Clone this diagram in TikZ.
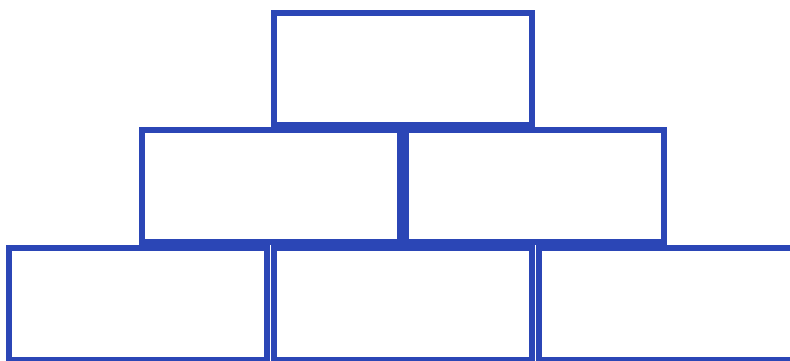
\documentclass[tikz,border=0pt]{standalone}
\definecolor{brickblue}{RGB}{43,70,182}
\begin{document}
\begin{tikzpicture}[x=1pt,y=1pt,
  brick/.style={draw=brickblue, line width=6pt, fill=white, minimum width=258pt, minimum height=112pt, inner sep=0pt, outer sep=0pt}]
\useasboundingbox (0,0) rectangle (790,360);
\clip (0,0) rectangle (790,360);
\node[brick] (t)  at (403,291.5) {};
\node[brick] (ml) at (270.5,174) {};
\node[brick] (mr) at (535,174) {};
\node[brick] (bl) at (138,56) {};
\node[brick] (bm) at (402.5,56) {};
\node[brick] (br) at (668,56) {};
\end{tikzpicture}
\end{document}
